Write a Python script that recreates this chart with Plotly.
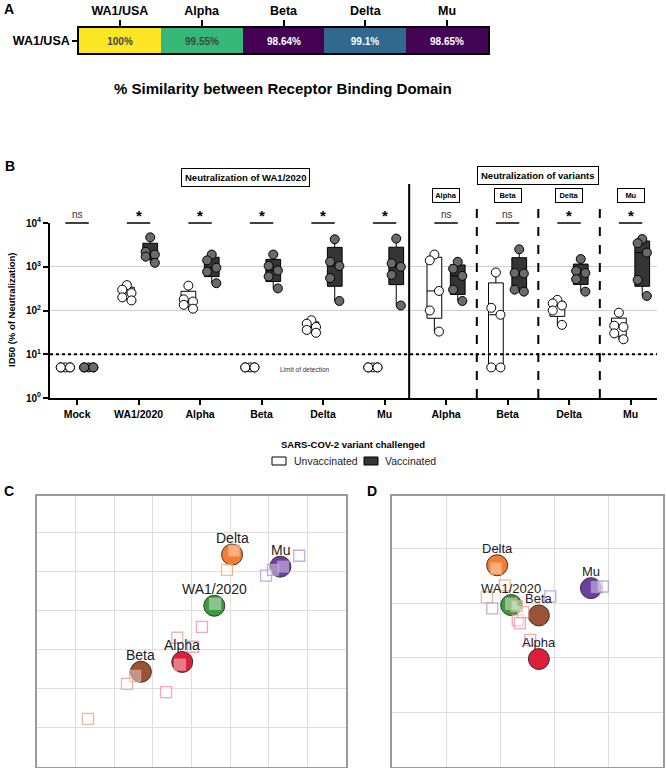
import plotly.graph_objects as go

W, H = 666, 768
FONT = "Arial, 'Liberation Sans', Helvetica, sans-serif"

# ---------------- Panel A data ----------------
RBD_VARIANTS = ["WA1/USA", "Alpha", "Beta", "Delta", "Mu"]
RBD_ROW = ["WA1/USA"]
RBD_SIMILARITY = [100, 99.55, 98.64, 99.1, 98.65]

# ---------------- Panel B data ----------------
B_CATEGORIES = ["Mock", "WA1/2020", "Alpha", "Beta", "Delta", "Mu",
                "Alpha", "Beta", "Delta", "Mu"]
UNVAC = [
    [5, 5, 5, 5, 5],
    [380, 300, 250, 200, 170],
    [370, 180, 160, 135, 110],
    [5, 5, 5, 5, 5],
    [60, 50, 42, 36, 31],
    [5, 5, 5, 5, 5],
    [1900, 1400, 280, 100, 33],
    [740, 115, 80, 5, 5],
    [175, 145, 130, 100, 47],
    [89, 45, 42, 30, 22],
]
VAC = [
    [5, 5, 5, 5, 5],
    [4700, 2200, 1900, 1700, 1230],
    [1900, 1400, 950, 770, 420],
    [1900, 1050, 820, 600, 320],
    [4250, 1300, 1040, 550, 165],
    [4400, 1200, 1000, 650, 130],
    [1300, 900, 620, 300, 165],
    [2500, 720, 700, 300, 270],
    [1500, 800, 720, 520, 270],
    [4300, 3450, 2100, 500, 215],
]
SIGNIF = ["ns", "*", "*", "*", "*", "*", "ns", "ns", "*", "*"]
LIMIT_OF_DETECTION = 10
Y_TICKS = [1, 10, 100, 1000, 10000]
Y_TICK_TEXT = ["10<sup>0</sup>", "10<sup>1</sup>", "10<sup>2</sup>", "10<sup>3</sup>", "10<sup>4</sup>"]
VARIANT_PANEL_LABELS = ["Alpha", "Beta", "Delta", "Mu"]

# ---------------- Panel C data ----------------
C_ANTIGENS = ["Delta", "Mu", "WA1/2020", "Alpha", "Beta"]
C_ANT_X = [5.05, 6.30, 4.59, 3.76, 2.69]
C_ANT_Y = [5.44, 5.13, 4.13, 2.69, 2.44]
C_SERA_GROUP = ["Delta", "Delta", "Mu", "Mu", "Mu", "Mu", "WA1/2020",
                "Alpha", "Alpha", "Alpha", "Alpha", "Beta", "Beta", "Beta", "Beta"]
C_SERA_X = [5.10, 4.92, 5.93, 6.11, 6.37, 6.79, 4.61, 4.27, 4.04, 3.70, 3.34, 3.63, 2.54, 2.33, 1.32]
C_SERA_Y = [5.54, 5.05, 4.90, 5.05, 5.13, 5.41, 4.18, 3.59, 3.08, 2.62, 1.92, 3.31, 2.33, 2.13, 1.23]

# ---------------- Panel D data ----------------
D_ANTIGENS = ["Delta", "Mu", "WA1/2020", "Beta", "Alpha"]
D_ANT_X = [1.94, 3.67, 2.20, 2.71, 2.71]
D_ANT_Y = [3.70, 3.28, 2.97, 2.78, 1.98]
D_SERA_GROUP = ["Delta", "Delta", "Delta", "Mu", "Mu", "Mu", "Mu", "WA1/2020",
                "Alpha", "Alpha", "Alpha", "Beta", "Beta"]
D_SERA_X = [1.92, 2.08, 1.75, 1.85, 2.92, 3.78, 3.89, 2.20, 2.32, 2.36, 2.55, 2.42, 2.30]
D_SERA_Y = [3.64, 3.33, 3.11, 2.91, 3.13, 3.30, 3.31, 2.99, 2.69, 2.64, 2.33, 2.84, 2.95]

ANTIGEN_COLORS = {"Delta": "#F47D2F", "Mu": "#6C3F9E", "WA1/2020": "#3E9B3C",
                  "Alpha": "#DC1F3A", "Beta": "#9C5234"}
SERA_COLORS = {"Delta": "rgba(245,160,110,0.75)", "Mu": "rgba(170,145,215,0.75)",
               "WA1/2020": "rgba(150,205,150,0.8)", "Alpha": "rgba(240,140,155,0.75)",
               "Beta": "rgba(225,160,135,0.75)"}


def px_x(p):
    return p / W


def px_y(p):
    return 1 - p / H


fig = go.Figure()

# ================= Panel A =================
fig.add_trace(go.Heatmap(
    x=RBD_VARIANTS, y=RBD_ROW, z=[RBD_SIMILARITY],
    colorscale="Viridis", zmin=min(RBD_SIMILARITY), zmax=max(RBD_SIMILARITY),
    showscale=False, texttemplate="<b>%{z}%</b>", textfont=dict(size=10, family=FONT),
    xaxis="x", yaxis="y", hoverinfo="skip"))

# ================= Panel B =================
OFF = 0.19
JITTER = [0.0, -0.075, 0.075, -0.075, 0.075]
ux, uy, vx, vy = [], [], [], []
upx, vpx = [], []
for i, (u, v) in enumerate(zip(UNVAC, VAC)):
    for k, val in enumerate(u):
        ux.append(i - OFF)
        uy.append(val)
        upx.append(i - OFF + JITTER[k])
    for k, val in enumerate(v):
        vx.append(i + OFF)
        vy.append(val)
        vpx.append(i + OFF + JITTER[k])

fig.add_trace(go.Box(x=ux, y=uy, xaxis="x2", yaxis="y2", boxpoints=False, width=0.24,
                     quartilemethod="exclusive", whiskerwidth=0, fillcolor="white",
                     line=dict(color="black", width=1), showlegend=False, hoverinfo="skip"))
fig.add_trace(go.Box(x=vx, y=vy, xaxis="x2", yaxis="y2", boxpoints=False, width=0.24,
                     quartilemethod="exclusive", whiskerwidth=0, fillcolor="#353535",
                     line=dict(color="black", width=1), showlegend=False, hoverinfo="skip"))
fig.add_trace(go.Scatter(x=upx, y=uy, xaxis="x2", yaxis="y2", mode="markers",
                         marker=dict(size=9, color="white", line=dict(color="black", width=1)),
                         showlegend=False, hoverinfo="skip"))
fig.add_trace(go.Scatter(x=vpx, y=vy, xaxis="x2", yaxis="y2", mode="markers",
                         marker=dict(size=9, color="#6a6a6a", line=dict(color="black", width=1)),
                         showlegend=False, hoverinfo="skip"))
XR_B = [-0.44, 9.43]
fig.add_trace(go.Scatter(x=XR_B, y=[LIMIT_OF_DETECTION] * 2, xaxis="x2", yaxis="y2",
                         mode="lines", line=dict(color="black", width=2, dash="dot"),
                         showlegend=False, hoverinfo="skip", cliponaxis=False))

# ================= Layout containers =================
shapes = []
annotations = []


def ann(x, y, text, size, xref="paper", yref="paper", bold=False, color="black", **kw):
    d = dict(x=x, y=y, xref=xref, yref=yref, text=("<b>%s</b>" % text) if bold else text,
             showarrow=False, xanchor=kw.pop("xanchor", "center"),
             yanchor=kw.pop("yanchor", "middle"),
             font=dict(size=size, family=FONT, color=color))
    d.update(kw)
    annotations.append(d)


# ================= Panel C & D =================
def add_map(names, ax_x, ax_y, sgroup, sx, sy, xa, ya, fsize):
    fig.add_trace(go.Scatter(
        x=ax_x, y=ax_y, xaxis=xa, yaxis=ya, mode="markers",
        marker=dict(size=21, color=[ANTIGEN_COLORS[n] for n in names],
                    line=dict(color="#333", width=1)),
        showlegend=False, hoverinfo="skip", cliponaxis=False))
    fig.add_trace(go.Scatter(
        x=sx, y=sy, xaxis=xa, yaxis=ya, mode="markers",
        marker=dict(symbol="square", size=11, color="rgba(255,255,255,0.4)",
                    line=dict(color=[SERA_COLORS[g] for g in sgroup], width=1.3)),
        showlegend=False, hoverinfo="skip"))
    for n, xv, yv in zip(names, ax_x, ax_y):
        ann(xv, yv, n, fsize, xref=xa, yref=ya, color="#222", yshift=17)


add_map(C_ANTIGENS, C_ANT_X, C_ANT_Y, C_SERA_GROUP, C_SERA_X, C_SERA_Y, "x3", "y3", 14)
add_map(D_ANTIGENS, D_ANT_X, D_ANT_Y, D_SERA_GROUP, D_SERA_X, D_SERA_Y, "x4", "y4", 13)

# significance lines
for i, s in enumerate(SIGNIF):
    shapes.append(dict(type="line", xref="x2", yref="y2 domain", x0=i - OFF, x1=i + OFF,
                       y0=1, y1=1, line=dict(color="black", width=1.5)))
    if s == "*":
        ann(i, 1, "*", 15, xref="x2", yref="y2 domain", bold=True, yanchor="bottom", yshift=-3)
    else:
        ann(i, 1, s, 10, xref="x2", yref="y2 domain", color="#333", yanchor="bottom", yshift=1)

# divider lines
shapes.append(dict(type="line", xref="x2", yref="paper", x0=5.4, x1=5.4,
                   y0=px_y(398), y1=px_y(184), line=dict(color="black", width=2)))
for xv in [6.5, 7.5, 8.5]:
    shapes.append(dict(type="line", xref="x2", yref="paper", x0=xv, x1=xv,
                       y0=px_y(398), y1=px_y(209), line=dict(color="black", width=2, dash="dash")))

# boxed labels
ann(px_x(245), px_y(177), "Neutralization of WA1/2020", 9.5, bold=True,
    bordercolor="black", borderwidth=1, borderpad=3)
ann(px_x(538), px_y(176), "Neutralization of variants", 9.5, bold=True,
    bordercolor="black", borderwidth=1, borderpad=3)
for j, lab in enumerate(VARIANT_PANEL_LABELS):
    ann(6 + j, px_y(196), lab, 7.5, xref="x2", bold=True, width=22,
        bordercolor="black", borderwidth=1, borderpad=2)

ann(px_x(305), px_y(370), "Limit of detection", 6.5, color="#333")
ann(px_x(12), px_y(310), "ID50 (% of Neutralization)", 9.5, bold=True, textangle=-90)

# legend
ann(px_x(353), px_y(444), "SARS-COV-2 variant challenged", 9.5, bold=True)
shapes.append(dict(type="rect", xref="paper", yref="paper", x0=px_x(272), x1=px_x(286),
                   y0=px_y(465), y1=px_y(457), line=dict(color="black", width=1), fillcolor="white"))
shapes.append(dict(type="rect", xref="paper", yref="paper", x0=px_x(364), x1=px_x(378),
                   y0=px_y(465), y1=px_y(457), line=dict(color="black", width=1), fillcolor="#353535"))
ann(px_x(292), px_y(461), "Unvaccinated", 10.5, color="#222", xanchor="left")
ann(px_x(383), px_y(461), "Vaccinated", 10.5, color="#222", xanchor="left")

# panel A title
ann(px_x(283), px_y(88), "% Similarity between Receptor Binding Domain", 15, bold=True)

# panel letters
for letter, (lx, ly) in {"A": (9, 9), "B": (10, 166), "C": (9, 491), "D": (372, 491)}.items():
    ann(px_x(lx), px_y(ly), letter, 14, bold=True)

map_axis = dict(showgrid=True, gridcolor="#dedede", gridwidth=1, dtick=1, tick0=0,
                showticklabels=False, ticks="", zeroline=False, showline=True, mirror=True,
                linecolor="#9a9a9a", linewidth=2, automargin=False)

fig.update_layout(
    width=W, height=H, autosize=False,
    margin=dict(l=0, r=0, t=0, b=0, pad=0, autoexpand=False),
    paper_bgcolor="white", plot_bgcolor="white",
    font=dict(family=FONT, color="black"),
    showlegend=False,
    xaxis=dict(domain=[px_x(79), px_x(488)], anchor="y", side="top", ticks="outside",
               ticklen=6, tickwidth=1.5, tickcolor="black", showline=True, mirror=True,
               linecolor="black", linewidth=1.5, automargin=False,
               tickfont=dict(size=12.5, family=FONT, color="black"),
               tickvals=RBD_VARIANTS, ticktext=["<b>%s</b>" % v for v in RBD_VARIANTS]),
    yaxis=dict(domain=[px_y(53), px_y(28)], anchor="x", ticks="outside", ticklen=5,
               tickwidth=1.5, tickcolor="black", showline=True, mirror=True,
               linecolor="black", linewidth=1.5, automargin=False,
               tickfont=dict(size=12.5, family=FONT, color="black"),
               tickvals=RBD_ROW, ticktext=["<b>%s</b>" % v for v in RBD_ROW]),
    xaxis2=dict(domain=[px_x(50), px_x(657)], anchor="y2", range=XR_B,
                tickvals=list(range(len(B_CATEGORIES))),
                ticktext=["<b>%s</b>" % c for c in B_CATEGORIES],
                ticks="outside", ticklen=5, tickwidth=2, tickcolor="black", automargin=False,
                showline=True, linecolor="black", linewidth=2, showgrid=False, zeroline=False,
                tickfont=dict(size=10.5, family=FONT, color="black")),
    yaxis2=dict(domain=[px_y(398), px_y(223)], anchor="x2", type="log", range=[0, 4],
                tickvals=Y_TICKS, ticktext=["<b>%s</b>" % t for t in Y_TICK_TEXT],
                ticks="outside", ticklen=5, tickwidth=2, tickcolor="black", automargin=False,
                showline=True, linecolor="black", linewidth=2,
                showgrid=True, gridcolor="#cfcfcf", gridwidth=1, zeroline=False,
                tickfont=dict(size=10, family=FONT, color="black")),
    xaxis3=dict(domain=[px_x(37), px_x(346)], anchor="y3", range=[0, 8], **map_axis),
    yaxis3=dict(domain=[px_y(767), px_y(496)], anchor="x3", range=[0, 6.94], **map_axis),
    xaxis4=dict(domain=[px_x(392), px_x(663)], anchor="y4", range=[0, 5], **map_axis),
    yaxis4=dict(domain=[px_y(767), px_y(496)], anchor="x4", range=[0, 4.97], **map_axis),
    shapes=shapes,
    annotations=annotations,
)

fig.write_html("out.html", config={"displayModeBar": False},
               post_script="document.body.style.margin='0px';document.body.style.overflow='hidden';")
